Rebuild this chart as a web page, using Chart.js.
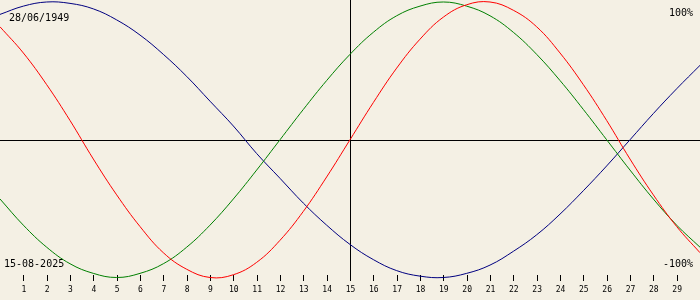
<!DOCTYPE html>
<html>
<head>
<meta charset="utf-8">
<script src="https://cdn.jsdelivr.net/npm/chart.js@4.4.1/dist/chart.umd.min.js"></script>
<style>
  * { box-sizing: border-box; }
  body { margin: 0; background: #f4f0e4; }
  #wrap { width: 700px; height: 300px; }
</style>
</head>
<body>
<div id="wrap"><canvas id="bio" width="700" height="300"></canvas></div>
<script>
const birthLabel = "28/06/1949";
const dateLabel = "15-08-2025";
const topLabel = "100%";
const bottomLabel = "-100%";

const days = [0, 1, 2, 3, 4, 5, 6, 7, 8, 9, 10, 11, 12, 13, 14, 15,
  16, 17, 18, 19, 20, 21, 22, 23, 24, 25, 26, 27, 28, 29, 30];

const physical = [82, 63, 40, 14, -14, -40, -63, -82, -94, -100, -98, -89, -73, -52, -27, 0,
  27, 52, 73, 89, 98, 100, 94, 82, 63, 40, 14, -14, -40, -63, -82];

const emotional = [-43, -62, -78, -90, -97, -100, -97, -90, -78, -62, -43, -22, 0, 22, 43, 62,
  78, 90, 97, 100, 97, 90, 78, 62, 43, 22, 0, -22, -43, -62, -78];

const intellectual = [91, 97, 100, 99, 95, 87, 76, 62, 46, 28, 10, -10, -28, -46, -62, -76,
  -87, -95, -99, -100, -97, -91, -81, -69, -54, -37, -19, 0, 19, 37, 54];

const tickDays = [1, 2, 3, 4, 5, 6, 7, 8, 9, 10, 11, 12, 13, 14, 15,
  16, 17, 18, 19, 20, 21, 22, 23, 24, 25, 26, 27, 28, 29];

const today = 15;

function points(values) {
  return days.map((d, i) => ({ x: d, y: values[i] }));
}

function crisp(v) {
  return Math.round(v) + 0.5;
}

const frame = {
  id: "frame",
  beforeDraw(chart) {
    const ctx = chart.ctx;
    ctx.save();
    ctx.fillStyle = "#f4f0e4";
    ctx.fillRect(0, 0, chart.width, chart.height);
    ctx.restore();
  },
  beforeDatasetsDraw(chart) {
    const ctx = chart.ctx;
    const x = chart.scales.x;
    const y = chart.scales.y;
    const y0 = crisp(y.getPixelForValue(0));
    const xt = crisp(x.getPixelForValue(today));
    ctx.save();
    ctx.strokeStyle = "#000";
    ctx.lineWidth = 1;
    ctx.beginPath();
    ctx.moveTo(0, y0);
    ctx.lineTo(chart.width, y0);
    ctx.moveTo(xt, 0);
    ctx.lineTo(xt, 281);
    ctx.stroke();

    // day ticks along the bottom
    ctx.beginPath();
    tickDays.forEach(d => {
      const px = crisp(x.getPixelForValue(d));
      ctx.moveTo(px, 275);
      ctx.lineTo(px, 281);
    });
    ctx.stroke();

    ctx.fillStyle = "#000";
    ctx.font = "8px 'DejaVu Sans Mono'";
    ctx.textAlign = "center";
    ctx.textBaseline = "alphabetic";
    tickDays.forEach(d => {
      ctx.fillText(String(d), x.getPixelForValue(d) + 0.5, 292);
    });

    ctx.font = "10px 'DejaVu Sans Mono'";
    ctx.textAlign = "left";
    ctx.fillText(birthLabel, 9, 21);
    ctx.fillText(dateLabel, 4, 267);
    ctx.textAlign = "right";
    ctx.fillText(topLabel, 693, 16);
    ctx.fillText(bottomLabel, 693, 267);
    ctx.restore();
  }
};

function series(values, color) {
  return {
    data: points(values),
    borderColor: color,
    borderWidth: 1,
    pointRadius: 0,
    tension: 0.4,
    fill: false,
    clip: false
  };
}

new Chart(document.getElementById("bio"), {
  type: "line",
  data: {
    datasets: [
      series(physical, "#ff0000"),
      series(emotional, "#008000"),
      series(intellectual, "#000080")
    ]
  },
  options: {
    responsive: false,
    animation: false,
    layout: { padding: 0 },
    plugins: {
      legend: { display: false },
      tooltip: { enabled: false }
    },
    scales: {
      x: { type: "linear", min: 0, max: 30, display: false },
      y: { min: -116.33, max: 101.45, display: false }
    }
  },
  plugins: [frame]
});
</script>
</body>
</html>
